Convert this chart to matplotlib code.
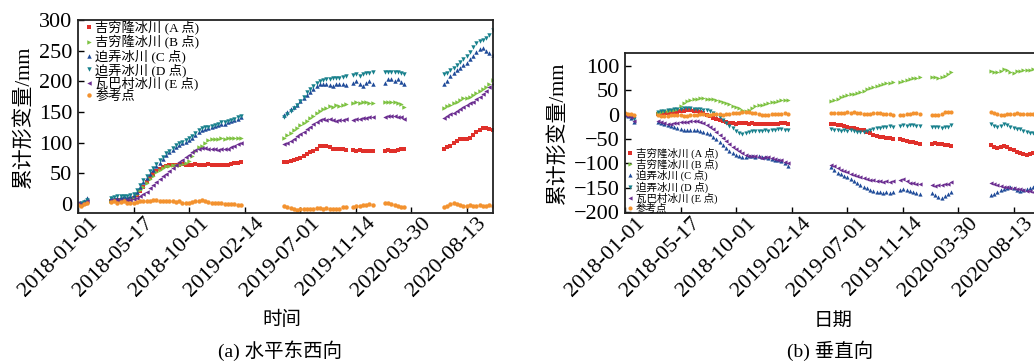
import pandas as pd
import matplotlib
matplotlib.use("Agg")
import matplotlib.pyplot as plt
import matplotlib.dates as mdates
from matplotlib.transforms import ScaledTranslation

plt.rcParams['font.family'] = ['Liberation Serif', 'Noto Sans CJK SC']
plt.rcParams['axes.unicode_minus'] = True

# observation dates: segments with gaps (8-day sampling)
seg_starts = ['2017-12-30', '2018-03-22', '2019-05-22', '2019-11-08', '2020-01-25', '2020-06-18']
seg_sizes = [4, 41, 20, 7, 7, 16]

names = ['吉穷隆冰川 (A 点)', '吉穷隆冰川 (B 点)', '迫弄冰川 (C 点)',
         '迫弄冰川 (D 点)', '瓦巴村冰川 (E 点)', '参考点']
colors = ['#e0302a', '#7dc242', '#1f4b99', '#17808c', '#6b2d90', '#f3922f']
markers = ['s', '>', '^', 'v', '<', 'o']

tick_dates = ['2018-01-01', '2018-05-17', '2018-10-01', '2019-02-14',
              '2019-07-01', '2019-11-14', '2020-03-30', '2020-08-13']

# (a) horizontal east-west, mm
h_A = [0, -2, 0, 1,
       5, 5, 6, 6, 7, 7, 8, 10, 15, 21, 28, 35, 42, 48, 53, 57, 60, 62, 63, 63, 64, 64, 65, 64, 64, 64,
       65, 64, 64, 64, 65, 64, 64, 63, 64, 63, 64, 65, 66, 67, 68,
       68, 69, 70, 71, 73, 75, 78, 81, 84, 87, 90, 94, 95, 94, 92, 90, 90, 89, 89, 88,
       88, 87, 88, 86, 86, 87, 87,
       87, 88, 86, 87, 88, 89, 90,
       90, 92, 95, 99, 103, 105, 105, 106, 108, 112, 117, 121, 124, 123, 122, 121]
h_B = [1, 0, 2, 3,
       5, 6, 7, 7, 8, 8, 8, 10, 16, 22, 28, 34, 40, 46, 52, 56, 59, 61, 62, 63, 64, 64, 65, 66, 70, 78,
       86, 92, 95, 100, 104, 105, 106, 106, 107, 106, 107, 108, 107, 108, 108,
       108, 112, 116, 120, 124, 128, 132, 136, 140, 144, 148, 151, 154, 157, 160, 158, 161, 160, 162, 163,
       164, 166, 165, 167, 166, 165, 164,
       166, 167, 166, 166, 165, 163, 158,
       157, 159, 161, 164, 167, 170, 172, 173, 175, 178, 181, 184, 187, 191, 196, 202]
h_C = [2, 0, 5, 10,
       9, 10, 10, 11, 12, 11, 12, 14, 20, 27, 35, 42, 49, 55, 61, 67, 73, 79, 84, 88, 93, 96, 99, 101,
       104, 108, 113, 118, 121, 122, 124, 125, 127, 129, 131, 131, 133, 135, 137, 139, 141,
       145, 150, 155, 158, 162, 168, 172, 178, 183, 188, 192, 195, 196, 195, 194, 193, 195, 196, 195, 194,
       198, 200, 195, 193, 197, 200, 195,
       198, 203, 204, 201, 203, 199, 196,
       195, 200, 208, 214, 218, 222, 226, 230, 236, 242, 248, 252, 254, 250, 246, 243]
h_D = [0, 2, 3, 6,
       10, 11, 12, 12, 13, 13, 14, 16, 23, 31, 39, 46, 53, 59, 65, 71, 77, 83, 87, 91, 96, 99, 101, 104,
       107, 111, 116, 121, 123, 125, 126, 127, 129, 131, 133, 133, 135, 137, 139, 141, 143,
       142, 146, 152, 156, 162, 168, 175, 182, 188, 193, 197, 200, 202, 204, 203, 205, 206, 205, 207, 208,
       210, 212, 208, 212, 214, 213, 215,
       215, 216, 216, 215, 216, 214, 212,
       212, 214, 218, 222, 226, 231, 236, 242, 248, 256, 262, 266, 268, 270, 276, 284]
h_E = [1, -1, 2, 4,
       6, 6, 7, 7, 7, 7, 7, 8, 10, 13, 16, 20, 25, 30, 35, 40, 45, 49, 54, 59, 64, 68, 72, 76, 80, 84,
       88, 90, 91, 91, 90, 90, 89, 88, 89, 90, 89, 92, 95, 98, 100,
       98, 100, 103, 106, 110, 114, 118, 122, 126, 130, 134, 137, 138, 137, 138, 137, 136, 137, 137, 138,
       137, 138, 139, 140, 140, 141, 141,
       142, 143, 144, 143, 142, 141, 139,
       140, 143, 146, 149, 152, 155, 158, 161, 164, 167, 171, 175, 179, 184, 190, 196]
h_R = [-2, -4, 0, 2,
       3, 4, 2, 3, 4, 2, 1, 2, 3, 4, 4, 5, 5, 6, 6, 5, 5, 4, 5, 4, 3, 4, 2, 1, 2, 3,
       4, 5, 6, 5, 3, 2, 1, 2, 1, 0, 0, -1, -1, -2, -2,
       -4, -5, -7, -9, -10, -9, -9, -8, -8, -8, -7, -7, -8, -7, -8, -9, -8, -9, -6, -5,
       -6, -4, -3, -2, -2, -1, -2,
       1, 2, 0, -2, -4, -5, -5,
       -5, -3, 0, 1, -1, -2, -3, -3, -2, -3, -3, -2, -3, -3, -2, -3]

# (b) vertical, mm
v_A = [0, -1, -2, -3,
       2, 3, 4, 4, 5, 6, 6, 7, 8, 9, 9, 8, 7, 5, 3, 0, -3, -6, -8, -10, -12, -14, -16, -17, -18, -17,
       -16, -17, -18, -17, -18, -19, -19, -18, -20, -19, -18, -20, -17, -16, -18,
       -18, -20, -21, -22, -24, -26, -27, -28, -30, -31, -32, -35, -38, -41, -43, -45, -46, -47, -48, -49,
       -50, -51, -53, -55, -57, -59, -60,
       -60, -59, -60, -61, -62, -63, -65,
       -63, -66, -68, -67, -64, -66, -70, -72, -76, -79, -81, -82, -80, -79, -81, -83]
v_B = [2, 1, 0, -1,
       3, 5, 7, 8, 9, 10, 12, 18, 24, 28, 30, 32, 33, 34, 34, 33, 33, 32, 31, 29, 27, 25, 22, 19, 16, 13,
       10, 8, 9, 14, 18, 20, 21, 22, 24, 26, 27, 28, 30, 31, 30,
       28, 31, 33, 36, 38, 40, 42, 43, 45, 47, 49, 52, 54, 57, 60, 62, 63, 65, 66, 67,
       68, 70, 71, 73, 75, 76, 77,
       77, 78, 76, 77, 80, 83, 88,
       91, 88, 87, 90, 94, 92, 88, 86, 89, 91, 92, 93, 92, 94, 93, 95]
v_C = [-1, -3, -6, -14,
       -14, -17, -20, -22, -24, -26, -28, -30, -31, -32, -32, -31, -32, -33, -35, -37, -40, -45, -50, -56,
       -62, -68, -74, -79, -83, -85, -86, -86, -84, -85, -86, -84, -86, -87, -88, -90, -92, -94, -96, -100, -106,
       -108, -114, -120, -122, -125, -128, -132, -137, -141, -145, -148, -151, -154, -156, -158, -159, -160,
       -158, -160, -159,
       -155, -152, -154, -156, -158, -160, -162,
       -160, -166, -170, -171, -168, -162, -158,
       -165, -162, -158, -155, -152, -150, -149, -151, -154, -156, -154, -152, -150, -148, -146, -145]
v_D = [1, 0, -3, -8,
       5, 7, 8, 9, 10, 11, 12, 12, 13, 13, 13, 12, 12, 11, 10, 9, 7, 4, 0, -5, -11, -17, -23, -28, -33, -37,
       -39, -38, -35, -33, -33, -34, -33, -32, -33, -32, -31, -30, -30, -31, -31,
       -30, -32, -31, -33, -32, -33, -32, -34, -35, -36, -35, -34, -31, -29, -28, -27, -26, -25, -24, -25,
       -23, -22, -24, -22, -21, -23, -24,
       -25, -26, -25, -27, -26, -25, -22,
       -20, -23, -25, -23, -20, -22, -25, -27, -29, -30, -33, -35, -37, -38, -40, -41]
v_E = [0, -2, -5, -12,
       -12, -15, -17, -18, -18, -17, -16, -15, -15, -14, -13, -12, -12, -14, -17, -21, -25, -30, -36, -42,
       -48, -54, -60, -66, -71, -75, -79, -82, -84, -85, -84, -86, -88, -87, -86, -89, -90, -92, -94, -97, -100,
       -103, -106, -110, -113, -116, -118, -121, -124, -126, -128, -130, -132, -134, -135, -136, -137, -138,
       -137, -138, -137,
       -135, -133, -136, -140, -141, -143, -142,
       -145, -146, -144, -145, -143, -142, -138,
       -140, -143, -145, -146, -148, -149, -150, -151, -152, -153, -155, -156, -157, -158, -159, -160]
v_R = [3, 2, 1, 0,
       0, -2, -3, -2, -1, -1, 0, -1, -2, -2, -1, 0, 0, 1, 1, 0, 0, 1, 2, 1, 0, 1, 2, 3, 4, 4,
       5, 6, 5, 4, 3, 2, 0, -1, 0, 1, 2, 1, 2, 3, 2,
       3, 4, 3, 3, 4, 5, 4, 5, 4, 3, 2, 1, 2, 3, 4, 3, 2, 2, 1, 0,
       -1, 0, 2, 2, 3, 3, 2,
       0, -1, 0, 2, 5, 6, 6,
       6, 4, 1, 0, 0, 1, 2, 2, 3, 2, 2, 1, 1, 2, 1, 1]

dates = pd.DatetimeIndex([])
for s, n in zip(seg_starts, seg_sizes):
    dates = dates.append(pd.date_range(s, periods=n, freq='8D'))

fig = plt.figure(figsize=(10.34, 3.62), dpi=100)
ax1 = fig.add_axes([0.0754, 0.4116, 0.4014, 0.533])
ax2 = fig.add_axes([0.6044, 0.4116, 0.4014, 0.442])

for vals, c, m, n in zip([h_A, h_B, h_C, h_D, h_E, h_R], colors, markers, names):
    ax1.plot(dates, vals, ls='none', marker=m, ms=3.2, mew=0, color=c, label=n)
for vals, c, m, n in zip([v_A, v_B, v_C, v_D, v_E, v_R], colors, markers, names):
    ax2.plot(dates, vals, ls='none', marker=m, ms=3.0, mew=0, color=c, label=n)

xl = (pd.Timestamp('2017-12-31'), pd.Timestamp('2020-10-17'))
ax1.set_ylim(-15, 300)
ax1.set_yticks(range(0, 301, 50))
ax2.set_ylim(-202, 127)
ax2.set_yticks(range(-200, 101, 50))

shift = ScaledTranslation(17 / 100, -2 / 100, fig.dpi_scale_trans)
for ax in (ax1, ax2):
    ax.set_xlim(xl)
    ax.set_xticks(pd.to_datetime(tick_dates))
    ax.xaxis.set_major_formatter(mdates.DateFormatter('%Y-%m-%d'))
    ax.tick_params(direction='in', length=4, width=1, labelsize=16, pad=4)
    for lab in ax.get_xticklabels():
        lab.set_rotation(45)
        lab.set_ha('right')
        lab.set_va('center')
        lab.set_rotation_mode('anchor')
        lab.set_transform(lab.get_transform() + shift)
    for sp in ax.spines.values():
        sp.set_linewidth(1.3)
        sp.set_color('#222222')
    ax.set_ylabel('累计形变量/mm', fontsize=15, labelpad=4)

ax1.legend(loc='upper left', bbox_to_anchor=(0.01, 1.01), fontsize=9.5, frameon=False,
           handlelength=0.6, handletextpad=0.2, labelspacing=0.0, borderpad=0.1, borderaxespad=0.1)
ax2.legend(loc='lower left', bbox_to_anchor=(0.0, -0.02), fontsize=7.6, frameon=False,
           handlelength=0.6, handletextpad=0.2, labelspacing=0.0, borderpad=0.1, borderaxespad=0.1)

fig.text(282 / 1034, 1 - 320 / 362, '时间', ha='center', va='center', fontsize=14)
fig.text(280 / 1034, 1 - 351 / 362, '(a) 水平东西向', ha='center', va='center', fontsize=14)
fig.text(833 / 1034, 1 - 321 / 362, '日期', ha='center', va='center', fontsize=14)
fig.text(830 / 1034, 1 - 351 / 362, '(b) 垂直向', ha='center', va='center', fontsize=14)

fig.savefig('out.png', dpi=100)
